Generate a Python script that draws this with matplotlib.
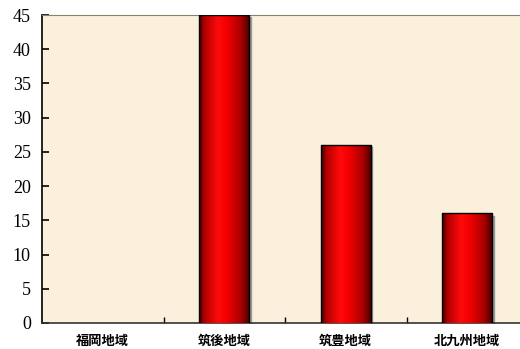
import numpy as np
import matplotlib
matplotlib.use("Agg")
import matplotlib.pyplot as plt
from matplotlib.colors import LinearSegmentedColormap

# region names and counts
regions = ["福岡地域", "筑後地域", "筑豊地域", "北九州地域"]
counts = [0, 45, 26, 16]
yticks = [0, 5, 10, 15, 20, 25, 30, 35, 40, 45]

fig = plt.figure(figsize=(5.2, 3.49), dpi=100)
ax = fig.add_axes([0.0808, 0.0745, 0.9346, 0.8825])
ax.set_facecolor("#FBF0DC")

x = np.arange(len(regions))
width = 0.41

# cylinder shading across each bar
cyl = LinearSegmentedColormap.from_list(
    "cyl", [(0.0, "#400000"), (0.1, "#b00000"), (0.38, "#ff0a0a"),
            (0.55, "#f50000"), (0.85, "#a80000"), (1.0, "#500000")])
grad = np.linspace(0, 1, 64).reshape(1, -1)

bars = ax.bar(x, counts, width=width, color="none", edgecolor="none", zorder=3)
for b, v in zip(bars, counts):
    if v <= 0:
        continue
    x0 = b.get_x()
    x1 = x0 + b.get_width()
    # drop shadow on the right side
    ax.fill_between([x1, x1 + 0.012], 0, v - 0.3, color="#9a9a9a", zorder=2)
    ax.imshow(grad, cmap=cyl, aspect="auto", extent=(x0, x1, 0, v),
              zorder=3, interpolation="bilinear")
    ax.plot([x0, x0, x1, x1], [0, v, v, 0], color="black", lw=1.0, zorder=4)

ax.set_xlim(-0.5, len(regions) - 0.5)
ax.set_ylim(0, 45)
ax.set_yticks(yticks)
ax.set_yticklabels([str(t) for t in yticks], family="Liberation Serif", fontsize=13)
ax.set_xticks(x)
ax.set_xticklabels(regions, family=["Noto Sans CJK JP", "DejaVu Sans"],
                   fontsize=9.5, fontweight="bold")
ax.set_xticks(np.arange(len(regions) - 1) + 0.5, minor=True)
ax.tick_params(axis="x", which="major", length=0, pad=8)
ax.tick_params(axis="x", which="minor", direction="in", length=4, width=1)
ax.tick_params(axis="y", direction="in", length=5, width=1.2, pad=8)

ax.spines["left"].set_color("black")
ax.spines["left"].set_linewidth(1.2)
ax.spines["bottom"].set_color("#333333")
ax.spines["bottom"].set_linewidth(1.2)
ax.spines["top"].set_color("#8a8070")
ax.spines["right"].set_visible(False)

fig.savefig("out.png", dpi=100)
